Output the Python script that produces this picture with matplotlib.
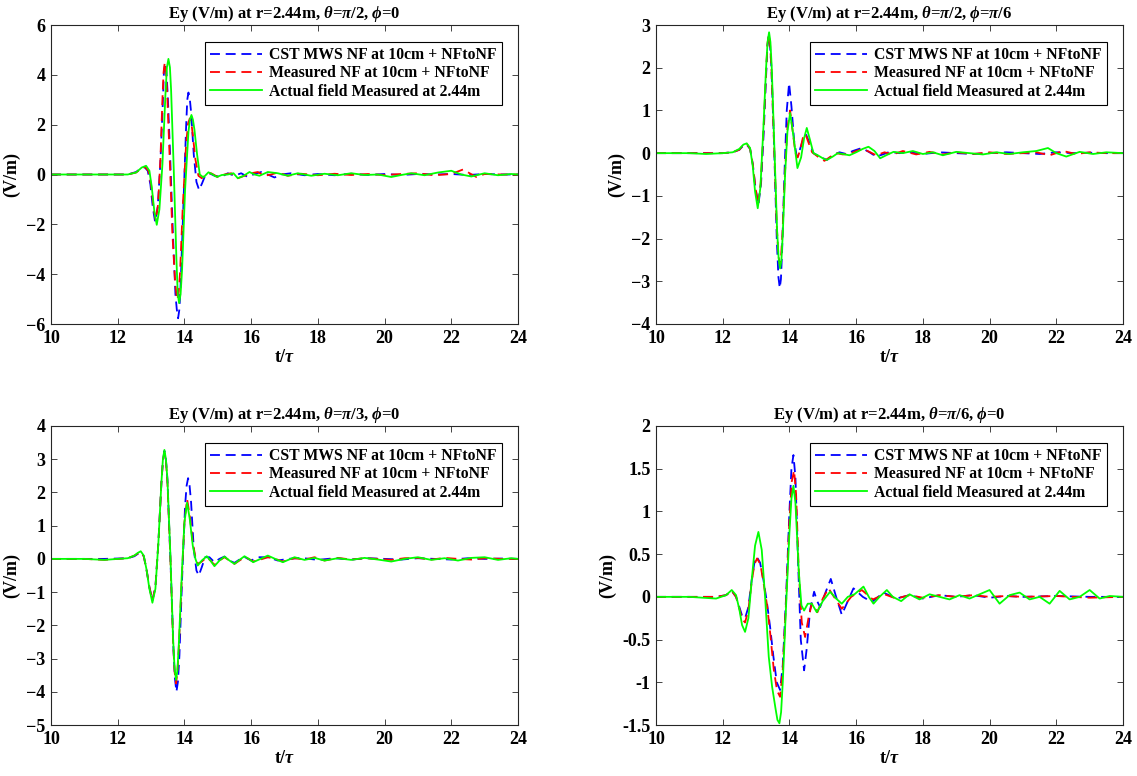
import matplotlib
matplotlib.use("Agg")
import matplotlib.pyplot as plt
import numpy as np

plt.rcParams['font.family'] = ['Liberation Serif', 'DejaVu Serif']
plt.rcParams['font.weight'] = 'bold'
plt.rcParams['mathtext.fontset'] = 'custom'
plt.rcParams['mathtext.rm'] = 'Liberation Serif:bold'
plt.rcParams['mathtext.it'] = 'Liberation Serif:italic'
plt.rcParams['mathtext.bf'] = 'Liberation Serif:bold'
plt.rcParams['mathtext.fallback'] = 'stix'

# ---------------- data (t/tau, Ey V/m) ----------------
titles = [r"Ey (V/m) at r=2.44m, $\theta$=$\pi$/2, $\phi$=0",
          r"Ey (V/m) at r=2.44m, $\theta$=$\pi$/2, $\phi$=$\pi$/6",
          r"Ey (V/m) at r=2.44m, $\theta$=$\pi$/3, $\phi$=0",
          r"Ey (V/m) at r=2.44m, $\theta$=$\pi$/6, $\phi$=0"]
series_labels = ["CST MWS NF at 10cm + NFtoNF",
                 "Measured NF at 10cm + NFtoNF",
                 "Actual field Measured at 2.44m"]
x_ticks = [10, 12, 14, 16, 18, 20, 22, 24]
y_ticks_p1 = [-6, -4, -2, 0, 2, 4, 6]
y_ticks_p2 = [-4, -3, -2, -1, 0, 1, 2, 3]
y_ticks_p3 = [-5, -4, -3, -2, -1, 0, 1, 2, 3, 4]
y_ticks_p4 = [-1.5, -1, -0.5, 0, 0.5, 1, 1.5, 2]
y_ticklabels_p4 = ["-1.5", "-1", "-0.5", "0", "0.5", "1", "1.5", "2"]

# Panel 1: theta=pi/2, phi=0
p1_cst = [[10, 0], [11.5, 0], [12.3, 0.0], [12.55, 0.1], [12.7, 0.25], [12.8, 0.3], [12.9, 0.15],
          [12.98, -0.4], [13.05, -1.3], [13.12, -1.9], [13.2, -1.3], [13.28, 0.5], [13.35, 2.8],
          [13.385, 4.1], [13.42, 4.47], [13.46, 4.1], [13.5, 3.2], [13.57, 0.8], [13.65, -2.2],
          [13.73, -4.8], [13.77, -5.4], [13.81, -5.77], [13.85, -5.4], [13.89, -4.3], [13.97, -1.2],
          [14.05, 1.9], [14.085, 3.0], [14.12, 3.29], [14.16, 3.05], [14.2, 2.5], [14.28, 0.8],
          [14.36, -0.3], [14.44, -0.62], [14.53, -0.35], [14.62, -0.05], [14.75, 0.05], [14.9, -0.05],
          [15.1, -0.1], [15.3, 0.05], [15.5, -0.05], [15.7, 0.05], [15.9, -0.1], [16.1, 0.02],
          [16.3, 0.1], [16.5, 0.0], [16.7, -0.12], [16.9, 0.0], [17.2, 0.05], [17.6, -0.03],
          [18.0, 0.02], [18.5, -0.03], [19.0, 0.03], [19.5, -0.02], [20.0, 0.02], [20.5, -0.02],
          [21.0, 0.02], [21.5, 0.0], [22.0, 0.02], [22.5, -0.02], [23.0, 0.02], [23.5, 0.0], [24.0, 0.0]]
p1_meas = [[10, 0], [11.5, 0], [12.3, 0.0], [12.55, 0.08], [12.72, 0.25], [12.82, 0.3], [12.92, 0.15],
           [13.0, -0.4], [13.07, -1.3], [13.14, -1.85], [13.21, -1.2], [13.28, 0.6], [13.34, 3.0],
           [13.375, 4.1], [13.41, 4.5], [13.45, 4.1], [13.49, 3.0], [13.56, 0.6], [13.64, -2.4],
           [13.72, -4.3], [13.755, -4.75], [13.79, -5.03], [13.83, -4.7], [13.87, -3.9], [13.95, -1.3],
           [14.05, 1.2], [14.11, 2.05], [14.16, 2.25], [14.21, 2.05], [14.25, 1.6], [14.33, 0.6],
           [14.42, -0.05], [14.52, -0.15], [14.65, 0.0], [14.8, 0.05], [15.0, -0.1], [15.2, 0.0],
           [15.4, 0.05], [15.6, -0.15], [15.8, -0.05], [16.0, 0.05], [16.2, 0.1], [16.4, -0.05],
           [16.6, 0.0], [16.8, 0.08], [17.1, -0.05], [17.5, 0.03], [18.0, -0.03], [18.5, 0.03],
           [19.0, -0.02], [19.5, 0.02], [20.0, -0.02], [20.5, 0.02], [21.0, 0.05], [21.5, -0.03],
           [22.0, 0.02], [22.35, 0.2], [22.55, 0.05], [22.75, -0.1], [23.0, 0.02], [23.5, 0.0], [24.0, 0.0]]
p1_act = [[10, 0], [11, 0], [11.8, 0], [12.3, 0.0], [12.55, 0.08], [12.72, 0.28], [12.85, 0.35],
          [12.95, 0.15], [13.02, -0.5], [13.1, -1.5], [13.17, -2.02], [13.25, -1.4], [13.34, 0.4],
          [13.43, 3.2], [13.475, 4.3], [13.52, 4.64], [13.565, 4.3], [13.6, 3.4], [13.68, 0.2],
          [13.76, -3.4], [13.8, -4.8], [13.84, -5.16], [13.885, -4.8], [13.93, -3.8], [14.02, -0.6],
          [14.12, 1.7], [14.165, 2.2], [14.21, 2.39], [14.255, 2.2], [14.3, 1.8], [14.38, 0.8],
          [14.46, 0.0], [14.57, -0.12], [14.72, 0.09], [14.85, 0.0], [14.97, -0.1], [15.12, -0.02],
          [15.3, 0.0], [15.47, 0.05], [15.6, -0.15], [15.78, -0.05], [15.95, 0.1], [16.1, 0.0],
          [16.25, -0.05], [16.5, 0.1], [16.8, 0.05], [17.1, -0.05], [17.4, 0.05], [17.8, -0.05],
          [18.2, 0.03], [18.6, -0.03], [19.0, 0.05], [19.4, -0.02], [19.8, 0.0], [20.2, -0.1],
          [20.5, -0.02], [20.8, 0.05], [21.2, -0.03], [21.6, 0.08], [22.0, 0.15], [22.3, 0.0],
          [22.6, -0.08], [23.0, 0.05], [23.4, -0.03], [23.8, 0.02], [24.0, 0.0]]

# Panel 2: theta=pi/2, phi=pi/6
p2_cst = [[10, 0], [11.5, 0], [12.0, 0], [12.3, 0.02], [12.5, 0.08], [12.62, 0.18], [12.72, 0.2],
          [12.82, 0.1], [12.9, -0.25], [12.98, -0.8], [13.07, -1.21], [13.15, -0.7], [13.23, 0.5],
          [13.3, 1.8], [13.34, 2.5], [13.38, 2.75], [13.42, 2.5], [13.46, 2.0], [13.54, 0.2],
          [13.62, -2.0], [13.67, -2.9], [13.71, -3.16], [13.745, -2.95], [13.78, -2.3], [13.85, -0.5],
          [13.92, 1.0], [13.99, 1.64], [14.06, 1.1], [14.14, 0.3],
          [14.22, -0.08], [14.3, 0.05], [14.4, 0.3], [14.5, 0.43], [14.6, 0.25], [14.72, 0.0],
          [14.9, -0.08], [15.12, -0.16], [15.3, -0.05], [15.5, 0.02], [15.7, -0.02], [15.9, 0.05],
          [16.17, 0.12], [16.4, 0.02], [16.6, -0.08], [16.8, -0.03], [17.0, 0.03], [17.3, 0.0],
          [17.6, 0.02], [18.0, -0.02], [18.5, 0.02], [19.0, 0.0], [19.5, -0.02], [20.0, 0.0],
          [20.5, 0.02], [21.0, 0.0], [21.5, -0.02], [22.0, 0.02], [22.5, 0.0], [23.0, 0.01],
          [23.5, 0.0], [24.0, 0.0]]
p2_meas = [[10, 0], [11.5, 0], [12.0, 0], [12.3, 0.02], [12.5, 0.08], [12.62, 0.2], [12.72, 0.22],
           [12.82, 0.1], [12.9, -0.25], [12.98, -0.8], [13.06, -1.2], [13.14, -0.7], [13.22, 0.5],
           [13.3, 1.9], [13.34, 2.55], [13.38, 2.78], [13.42, 2.55], [13.46, 2.0], [13.54, 0.2],
           [13.62, -1.7], [13.67, -2.4], [13.71, -2.6], [13.75, -2.4], [13.79, -1.9], [13.87, -0.4],
           [13.94, 0.6], [14.02, 1.0], [14.1, 0.5], [14.18, 0.0],
           [14.25, -0.1], [14.33, 0.1], [14.4, 0.35], [14.48, 0.45], [14.57, 0.25], [14.68, 0.02],
           [14.85, -0.08], [15.05, -0.18], [15.2, -0.1], [15.4, 0.0], [15.6, -0.03], [15.8, -0.02],
           [16.0, 0.05], [16.2, 0.1], [16.4, 0.03], [16.6, -0.05], [16.85, 0.02], [17.1, -0.03],
           [17.4, 0.05], [17.8, -0.03], [18.2, 0.03], [18.6, -0.03], [19.0, 0.02], [19.5, -0.02],
           [20.0, 0.02], [20.5, -0.02], [21.0, 0.0], [21.4, 0.02], [21.8, -0.05], [22.2, 0.05],
           [22.6, -0.02], [23.0, 0.02], [23.5, 0.0], [24.0, 0.0]]
p2_act = [[10, 0], [11, 0], [11.5, -0.02], [12.0, 0], [12.3, 0.02], [12.5, 0.1], [12.62, 0.2],
          [12.72, 0.23], [12.82, 0.12], [12.9, -0.3], [12.97, -0.9], [13.05, -1.29], [13.13, -0.8],
          [13.22, 0.6], [13.3, 2.0], [13.345, 2.6], [13.39, 2.83], [13.43, 2.6], [13.47, 2.0],
          [13.55, 0.1], [13.63, -1.8], [13.675, -2.45], [13.72, -2.7], [13.76, -2.5], [13.8, -1.9],
          [13.87, -0.5], [13.94, 0.5], [14.02, 0.94], [14.12, 0.4],
          [14.24, -0.35], [14.35, -0.1], [14.44, 0.35], [14.52, 0.59], [14.62, 0.3], [14.72, 0.0],
          [14.85, -0.05], [15.0, -0.12], [15.12, -0.16], [15.3, -0.08], [15.45, 0.0], [15.6, -0.02],
          [15.8, -0.05], [16.0, 0.02], [16.2, 0.1], [16.37, 0.15], [16.55, 0.05], [16.72, -0.12],
          [16.9, -0.05], [17.12, 0.03], [17.4, 0.0], [17.7, 0.05], [18.0, -0.02], [18.3, 0.02],
          [18.6, -0.05], [19.0, 0.03], [19.4, 0.0], [19.8, -0.03], [20.2, 0.02], [20.6, -0.02],
          [21.0, 0.02], [21.4, 0.05], [21.75, 0.12], [22.0, 0.0], [22.3, -0.08], [22.7, 0.03],
          [23.1, -0.02], [23.5, 0.02], [24.0, 0.0]]

# Panel 3: theta=pi/3, phi=0
p3_cst = [[10, 0], [11.6, 0], [12.3, 0.02], [12.5, 0.08], [12.6, 0.15], [12.69, 0.2], [12.78, 0.08],
          [12.86, -0.3], [12.95, -0.85], [13.04, -1.25], [13.13, -0.85], [13.22, 0.5], [13.31, 2.3],
          [13.355, 2.95], [13.4, 3.25], [13.445, 3.0], [13.49, 2.4], [13.58, 0.0], [13.67, -2.7],
          [13.715, -3.6], [13.76, -4.0], [13.805, -3.7], [13.85, -2.9],
          [13.93, -0.6], [14.02, 1.6], [14.065, 2.2], [14.11, 2.43], [14.155, 2.2], [14.2, 1.7],
          [14.28, 0.3], [14.36, -0.35],
          [14.43, -0.5], [14.52, -0.25], [14.62, 0.05], [14.75, 0.05], [14.9, -0.1], [15.05, 0.0],
          [15.2, 0.07], [15.35, -0.05], [15.5, -0.12], [15.65, -0.02], [15.8, 0.06], [16.0, -0.05],
          [16.2, 0.05], [16.5, 0.05], [16.8, -0.05], [17.1, 0.0], [17.5, 0.03], [18.0, -0.03],
          [18.5, 0.02], [19.0, -0.02], [19.5, 0.02], [20.0, 0.0], [20.5, -0.02], [21.0, 0.02],
          [21.5, 0.0], [22.0, -0.02], [22.5, 0.02], [23.0, 0.0], [23.5, 0.01], [24.0, 0.0]]
p3_meas = [[10, 0], [11.0, 0], [11.6, -0.03], [12.0, 0], [12.3, 0.02], [12.5, 0.1], [12.6, 0.16],
           [12.69, 0.2], [12.78, 0.08], [12.86, -0.3], [12.95, -0.85], [13.04, -1.25], [13.13, -0.85],
           [13.22, 0.5], [13.31, 2.3], [13.355, 2.95], [13.4, 3.2], [13.445, 2.95], [13.49, 2.3],
           [13.58, 0.0], [13.66, -2.5], [13.705, -3.4], [13.75, -3.75], [13.79, -3.4], [13.83, -2.7],
           [13.92, -0.6], [14.0, 1.1], [14.08, 1.8], [14.16, 1.3],
           [14.25, 0.5], [14.33, 0.05], [14.4, -0.15], [14.52, -0.08], [14.67, 0.05], [14.78, -0.05],
           [14.9, -0.18], [15.05, -0.05], [15.2, 0.05], [15.35, -0.05], [15.5, -0.15], [15.65, -0.05],
           [15.8, 0.05], [15.93, 0.0], [16.06, -0.08], [16.28, -0.02], [16.5, 0.05], [16.72, 0.0],
           [16.95, -0.08], [17.3, 0.02], [17.6, -0.02], [17.9, 0.05], [18.2, -0.05], [18.6, 0.03],
           [19.0, -0.02], [19.4, 0.02], [19.8, 0.0], [20.2, -0.03], [20.6, 0.02], [21.0, 0.03],
           [21.4, -0.02], [21.8, 0.03], [22.2, 0.0], [22.6, -0.02], [23.0, 0.02], [23.5, 0.0], [24.0, 0.0]]
p3_act = [[10, 0], [11.0, 0], [11.6, -0.03], [12.0, 0], [12.3, 0.02], [12.5, 0.1], [12.6, 0.18],
          [12.69, 0.23], [12.78, 0.1], [12.86, -0.3], [12.95, -0.9], [13.04, -1.32], [13.13, -0.9],
          [13.22, 0.5], [13.31, 2.3], [13.355, 3.0], [13.4, 3.28], [13.445, 3.0], [13.49, 2.4],
          [13.58, 0.1], [13.66, -2.4], [13.705, -3.3], [13.75, -3.64], [13.79, -3.35], [13.83, -2.6],
          [13.92, -0.5], [14.0, 1.1], [14.08, 1.69], [14.16, 1.2],
          [14.25, 0.4], [14.33, 0.0], [14.4, -0.2], [14.52, -0.05], [14.67, 0.08], [14.78, -0.05],
          [14.9, -0.22], [15.05, -0.05], [15.2, 0.07], [15.35, -0.05], [15.5, -0.15], [15.65, -0.03],
          [15.8, 0.08], [15.93, 0.0], [16.06, -0.1], [16.28, 0.0], [16.5, 0.1], [16.72, 0.0],
          [16.95, -0.1], [17.3, 0.05], [17.6, -0.03], [17.9, 0.03], [18.2, -0.05], [18.6, 0.02],
          [19.0, -0.03], [19.4, 0.03], [19.8, -0.02], [20.2, -0.08], [20.6, 0.0], [21.0, 0.05],
          [21.4, -0.03], [21.8, 0.02], [22.2, -0.05], [22.6, 0.03], [23.0, 0.05], [23.4, -0.03],
          [23.8, 0.02], [24.0, 0.0]]

# Panel 4: theta=pi/6, phi=0
p4_cst = [[10, 0], [11.8, 0], [12.1, 0.02], [12.27, 0.07], [12.4, 0.0], [12.5, -0.12], [12.58, -0.22],
          [12.67, -0.25], [12.77, -0.12], [12.87, 0.2], [12.95, 0.4], [13.02, 0.47], [13.12, 0.4],
          [13.22, 0.2], [13.32, -0.05], [13.42, -0.35], [13.52, -0.7], [13.62, -1.0], [13.72, -1.09],
          [13.8, -0.8], [13.9, 0.0], [14.0, 1.0], [14.06, 1.5], [14.12, 1.66], [14.18, 1.4],
          [14.26, 0.4], [14.34, -0.5], [14.44, -0.86], [14.52, -0.6], [14.62, -0.15], [14.74, 0.06],
          [14.83, -0.05], [14.92, -0.12], [15.08, 0.05], [15.24, 0.21], [15.4, 0.0], [15.57, -0.21],
          [15.75, -0.05], [15.92, 0.1], [16.2, 0.0], [16.47, -0.06], [16.82, 0.05], [17.2, -0.02],
          [17.6, 0.02], [18.0, -0.02], [18.5, 0.02], [19.0, 0.0], [19.5, 0.02], [20.0, -0.01],
          [20.5, 0.01], [21.0, 0.0], [22.0, 0.01], [23.0, 0.0], [24.0, 0.0]]
p4_meas = [[10, 0], [11.8, 0], [12.1, 0.02], [12.27, 0.07], [12.4, 0.0], [12.5, -0.14], [12.58, -0.26],
           [12.67, -0.3], [12.77, -0.15], [12.87, 0.18], [12.95, 0.38], [13.03, 0.45], [13.13, 0.38],
           [13.23, 0.15], [13.33, -0.1], [13.43, -0.45], [13.53, -0.85], [13.63, -1.1], [13.72, -1.17],
           [13.8, -0.85], [13.9, -0.05], [14.0, 0.9], [14.07, 1.35], [14.14, 1.48], [14.2, 1.2],
           [14.28, 0.3], [14.37, -0.3], [14.47, -0.47], [14.57, -0.25], [14.67, -0.08], [14.75, -0.12],
           [14.84, -0.18], [15.0, -0.02], [15.17, 0.1], [15.37, -0.02], [15.57, -0.14], [15.85, 0.0],
           [16.17, 0.08], [16.5, -0.03], [16.85, 0.03], [17.2, -0.02], [17.6, 0.02], [18.0, -0.01],
           [18.5, 0.02], [19.0, 0.0], [19.5, 0.02], [20.0, 0.0], [20.5, 0.01], [21.0, 0.0],
           [22.0, 0.01], [23.0, -0.01], [24.0, 0.0]]
p4_act = [[10, 0], [11.0, 0], [11.8, -0.02], [12.1, 0.02], [12.27, 0.08], [12.4, 0.02], [12.5, -0.15],
          [12.58, -0.33], [12.67, -0.41], [12.77, -0.25], [12.87, 0.2], [12.97, 0.6], [13.07, 0.76],
          [13.17, 0.55], [13.27, 0.0], [13.38, -0.7], [13.48, -1.05], [13.58, -1.3], [13.64, -1.44],
          [13.7, -1.48], [13.75, -1.35], [13.8, -1.0], [13.9, -0.1], [14.0, 0.75], [14.06, 1.15],
          [14.12, 1.3], [14.18, 1.1], [14.28, 0.3],
          [14.36, -0.1], [14.44, -0.16], [14.55, -0.08], [14.67, -0.08], [14.82, -0.18], [15.0, -0.05],
          [15.22, 0.06], [15.4, -0.02], [15.57, -0.08], [15.75, 0.0], [15.95, 0.03], [16.22, 0.12],
          [16.38, 0.0], [16.52, -0.08], [16.7, 0.0], [16.92, 0.08], [17.1, 0.0], [17.35, -0.05],
          [17.6, 0.03], [17.9, -0.03], [18.2, 0.03], [18.5, 0.0], [18.8, -0.03], [19.1, 0.02],
          [19.4, -0.02], [19.7, 0.03], [20.0, 0.08], [20.3, -0.08], [20.6, 0.02], [20.9, 0.05],
          [21.2, -0.03], [21.5, 0.0], [21.8, -0.08], [22.1, 0.07], [22.4, -0.03], [22.7, 0.0],
          [23.0, 0.08], [23.3, -0.02], [23.6, 0.01], [24.0, 0.0]]

panels = [
    (p1_cst, p1_meas, p1_act, (-6, 6), y_ticks_p1, None),
    (p2_cst, p2_meas, p2_act, (-4, 3), y_ticks_p2, None),
    (p3_cst, p3_meas, p3_act, (-5, 4), y_ticks_p3, None),
    (p4_cst, p4_meas, p4_act, (-1.5, 2), y_ticks_p4, y_ticklabels_p4),
]

# ---------------- layout ----------------
W, H = 1137, 776
fig = plt.figure(figsize=(W / 100, H / 100), dpi=100)
ax_px = [(51, 25), (656, 25), (51, 426), (656, 426)]   # left, top in pixels
aw, ah = 467, 299

axis_col = (0.15, 0.15, 0.15)
for i, (cst, meas, act, ylim, yt, ytl) in enumerate(panels):
    lx, ty = ax_px[i]
    ax = fig.add_axes([lx / W, 1 - (ty + ah) / H, aw / W, ah / H])
    c = np.array(cst); m = np.array(meas); a = np.array(act)
    ax.plot(c[:, 0], c[:, 1], color=(0, 0, 1), lw=1.3, ls=(0, (5.5, 3.2)), label=series_labels[0])
    ax.plot(m[:, 0], m[:, 1], color=(1, 0, 0), lw=1.3, ls=(0, (5.5, 3.2)), label=series_labels[1])
    ax.plot(a[:, 0], a[:, 1], color=(0, 1, 0), lw=1.3, label=series_labels[2])
    ax.set_xlim(10, 24)
    ax.set_ylim(*ylim)
    ax.set_xticks(x_ticks)
    ax.set_yticks(yt)
    if ytl is not None:
        ax.set_yticklabels(ytl)
    ax.tick_params(direction='in', top=True, right=True, length=4, width=0.6,
                   labelsize=13, colors=axis_col, pad=4)
    for lab in ax.get_xticklabels() + ax.get_yticklabels():
        lab.set_fontweight('bold')
        lab.set_color('black')
    for sp in ax.spines.values():
        sp.set_color(axis_col)
        sp.set_linewidth(0.8)
    ax.set_title(titles[i], fontsize=12, fontweight='bold', pad=5)
    ax.set_xlabel(r"t/$\tau$", fontsize=13, fontweight='bold', labelpad=2)
    ax.set_ylabel("(V/m)", fontsize=13, fontweight='bold', labelpad=4)
    leg = ax.legend(loc='upper right', bbox_to_anchor=(1 - 16 / aw, 1 - 16.5 / ah),
                    borderaxespad=0, fontsize=11.3, frameon=True, fancybox=False,
                    framealpha=1, edgecolor='black', handlelength=3.3, handletextpad=0.45,
                    labelspacing=0.15, borderpad=0.35)
    leg.get_frame().set_linewidth(0.8)
    for t in leg.get_texts():
        t.set_fontweight('bold')

fig.savefig("out.png", dpi=100)
